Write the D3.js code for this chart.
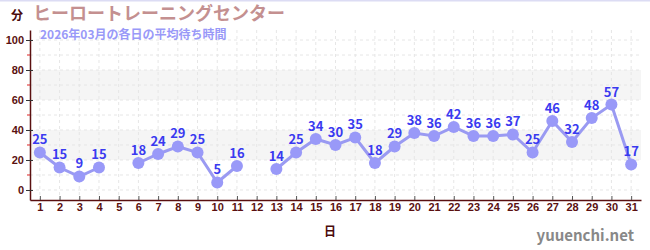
<!DOCTYPE html>
<html>
<head>
<meta charset="utf-8">
<script src="https://cdn.jsdelivr.net/npm/d3@7"></script>
<style>
  body { margin: 0; background: #fff; }
  svg { display: block; font-family: "Noto Sans CJK JP", "Noto Sans", sans-serif; }
</style>
</head>
<body>
<div class="container"></div>
<script>
const days = d3.range(1, 32);
const waitMinutes = [25, 15, 9, 15, null, 18, 24, 29, 25, 5, 16, null, 14, 25, 34, 30, 35, 18, 29, 38,
    36, 42, 36, 36, 37, 25, 46, 32, 48, 57, 17];
const yTicks = [0, 20, 40, 60, 80, 100];
const yMinorTicks = [10, 30, 50, 70, 90];
const bands = [[20, 40], [60, 80]];

const w = 650;
const h = 250;

const margin = {
    top: 30,
    right: 9,
    bottom: 50,
    left: 30
};

const svg = d3.select('.container')
    .append('svg')
    .attr('width', w)
    .attr('height', h);

// top border
svg.append('rect')
    .attr('x', 0).attr('y', 0)
    .attr('width', w).attr('height', 1.5)
    .attr('fill', '#dcdcf4');

const x = d3.scaleLinear([0.5, 31.5], [margin.left, w - margin.right]);
const y = d3.scaleLinear([-6.67, 106.67], [h - margin.bottom, margin.top]);

// bands
svg.append('g')
    .selectAll('rect')
    .data(bands)
    .join('rect')
    .attr('x', margin.left)
    .attr('width', w - margin.right - margin.left)
    .attr('y', d => y(d[1]))
    .attr('height', d => y(d[0]) - y(d[1]))
    .attr('fill', '#f5f5f5');

// grid
const grid = svg.append('g')
    .attr('stroke', '#e6e6e6')
    .attr('stroke-dasharray', '3,3');
grid.selectAll('.vg')
    .data(days)
    .join('line')
    .attr('x1', d => x(d)).attr('x2', d => x(d))
    .attr('y1', margin.top).attr('y2', h - margin.bottom);
grid.selectAll('.hg')
    .data(yTicks.concat(yMinorTicks))
    .join('line')
    .attr('x1', margin.left).attr('x2', w - margin.right)
    .attr('y1', d => y(d)).attr('y2', d => y(d));

// y axis
const yAxis = svg.append('g')
    .attr('transform', `translate(${margin.left},0)`)
    .call(d3.axisLeft(y).tickValues(yTicks).tickSize(4).tickSizeOuter(0));
yAxis.select('.domain').attr('stroke', '#5a1010').attr('stroke-width', 1.5);
yAxis.selectAll('.tick line').attr('stroke', '#333').attr('x2', 3).attr('x1', -4);
yAxis.selectAll('.tick text')
    .attr('x', -6)
    .attr('fill', '#5a1010')
    .style('font-size', '11px')
    .style('font-weight', 'bold');

svg.append('g')
    .selectAll('line')
    .data(yMinorTicks)
    .join('line')
    .attr('x1', margin.left - 3).attr('x2', margin.left)
    .attr('y1', d => y(d)).attr('y2', d => y(d))
    .attr('stroke', '#dd2222');

// x axis
const xAxis = svg.append('g')
    .attr('transform', `translate(0,${h - margin.bottom})`)
    .call(d3.axisBottom(x).tickValues(days).tickFormat(d3.format('d')).tickSize(4).tickSizeOuter(0));
xAxis.select('.domain').attr('stroke', '#5a1010').attr('stroke-width', 1.5);
xAxis.selectAll('.tick line').attr('stroke', '#555').attr('y1', -4).attr('y2', 0);
xAxis.selectAll('.tick text')
    .attr('y', 3)
    .attr('fill', '#5a1010')
    .style('font-size', '11px')
    .style('font-weight', 'bold');

// line + points
const data = days.map((d, i) => ({ day: d, value: waitMinutes[i] }));
const line = d3.line()
    .defined(d => d.value !== null)
    .x(d => x(d.day))
    .y(d => y(d.value));

svg.append('path')
    .datum(data)
    .attr('fill', 'none')
    .attr('stroke', '#9a9af2')
    .attr('stroke-width', 3)
    .attr('d', line);

const pts = data.filter(d => d.value !== null);
svg.append('g')
    .selectAll('circle')
    .data(pts)
    .join('circle')
    .attr('cx', d => x(d.day))
    .attr('cy', d => y(d.value))
    .attr('r', 6)
    .attr('fill', '#9999f8');

svg.append('g')
    .selectAll('text')
    .data(pts)
    .join('text')
    .attr('x', d => x(d.day))
    .attr('y', d => y(d.value) - 8)
    .attr('text-anchor', 'middle')
    .attr('fill', '#3a3af0')
    .style('font-size', '13px')
    .style('font-weight', 'bold')
    .text(d => d.value);

// titles
svg.append('text')
    .attr('x', 33).attr('y', 20)
    .attr('fill', '#c49090')
    .style('font-size', '18px')
    .style('font-weight', 'bold')
    .text('ヒーロートレーニングセンター');

svg.append('text')
    .attr('x', 40).attr('y', 39)
    .attr('fill', '#9999f8')
    .style('font-size', '12px')
    .style('font-weight', 'bold')
    .text('2026年03月の各日の平均待ち時間');

svg.append('text')
    .attr('x', 11).attr('y', 20)
    .attr('fill', '#4a0a0a')
    .style('font-size', '12px')
    .style('font-weight', 'bold')
    .text('分');

svg.append('text')
    .attr('x', 330).attr('y', 236)
    .attr('text-anchor', 'middle')
    .attr('fill', '#4a0a0a')
    .style('font-size', '12px')
    .style('font-weight', 'bold')
    .text('日');

svg.append('text')
    .attr('x', 634).attr('y', 241)
    .attr('text-anchor', 'end')
    .attr('fill', '#888')
    .style('font-size', '15px')
    .style('font-weight', 'bold')
    .text('yuuenchi.net');
</script>
</body>
</html>
